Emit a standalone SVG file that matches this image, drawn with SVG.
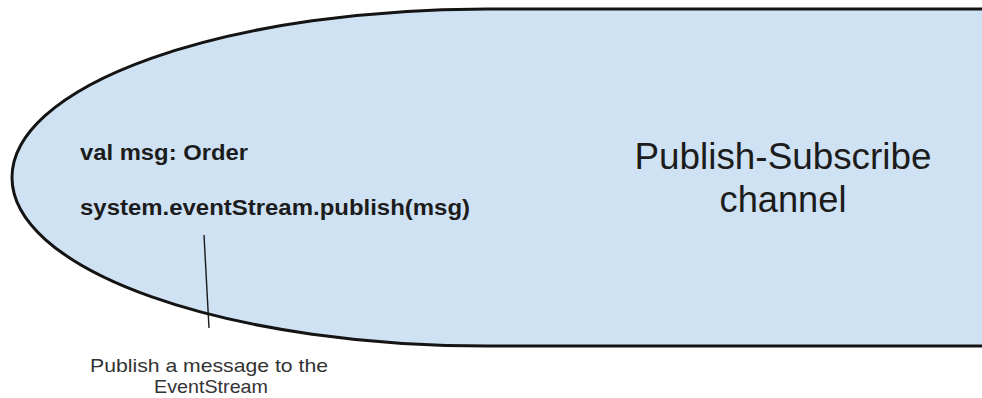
<svg xmlns="http://www.w3.org/2000/svg" width="982" height="398" viewBox="0 0 982 398">
  <style>
    .code { font-family: "Liberation Sans", Arial, sans-serif; font-weight: bold; font-size: 22px; fill: #1c1c1c; }
    .title { font-family: "Liberation Sans", Arial, sans-serif; font-size: 36px; fill: #1c1c1c; text-anchor: middle; }
    .note { font-family: "Liberation Sans", Arial, sans-serif; font-size: 19px; fill: #333333; text-anchor: middle; }
    .channel { fill: #cfe2f3; stroke: #141414; stroke-width: 3; }
    .link { stroke: #1a1a1a; stroke-width: 1.4; fill: none; }
  </style>
  <rect width="982" height="398" fill="#ffffff"/>

  <!-- Publish-Subscribe channel: half-ellipse opening to the right -->
  <g id="channel">
    <path class="channel" d="M 990 9 L 487 9 A 475 168.5 0 0 0 487 346 L 990 346"/>
    <text class="title" x="783" y="169" textLength="297" lengthAdjust="spacingAndGlyphs">Publish-Subscribe</text>
    <text class="title" x="783" y="212" textLength="127" lengthAdjust="spacingAndGlyphs">channel</text>
  </g>

  <!-- Publisher code inside the channel -->
  <g id="publisher">
    <text class="code" x="80" y="160" textLength="168" lengthAdjust="spacingAndGlyphs">val msg: Order</text>
    <text class="code" x="80" y="215" textLength="390" lengthAdjust="spacingAndGlyphs">system.eventStream.publish(msg)</text>
  </g>

  <!-- Callout text -->
  <g id="note">
    <text class="note" x="209" y="372" textLength="238" lengthAdjust="spacingAndGlyphs">Publish a message to the</text>
    <text class="note" x="211" y="393" textLength="114" lengthAdjust="spacingAndGlyphs">EventStream</text>
  </g>

  <g id="connectors">
    <line class="link" x1="204" y1="235" x2="209" y2="328"/>
  </g>
</svg>
